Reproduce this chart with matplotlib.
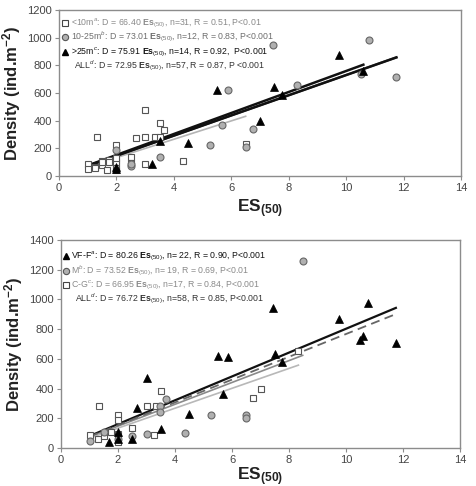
import matplotlib
matplotlib.use("Agg")
import matplotlib.pyplot as plt
import numpy as np

plt.rcParams['font.family'] = ['Liberation Sans', 'DejaVu Sans']
plt.rcParams['mathtext.fontset'] = 'custom'
plt.rcParams['mathtext.rm'] = 'Liberation Sans'
plt.rcParams['mathtext.it'] = 'Liberation Sans:italic'
plt.rcParams['mathtext.bf'] = 'Liberation Sans:bold'

# ---------------- Top panel data (by depth) ----------------
sq_top_x = [1.0, 1.0, 1.25, 1.33, 1.5, 1.5, 1.67, 1.75, 2.0, 2.0, 2.0, 2.0, 2.0, 2.5, 2.5,
            2.67, 3.0, 3.0, 3.0, 3.33, 3.5, 3.5, 3.67, 4.33, 6.5, 1.25, 1.75, 2.0, 1.5]
sq_top_y = [85, 50, 65, 280, 110, 80, 45, 115, 225, 110, 95, 40, 60, 140, 95,
            275, 475, 280, 90, 280, 385, 285, 335, 110, 230, 55, 100, 130, 100]
ci_top_x = [2.0, 2.5, 2.5, 3.5, 5.25, 5.67, 5.87, 6.5, 6.75, 7.45, 8.3, 10.5, 10.78, 11.75]
ci_top_y = [190, 70, 85, 135, 225, 370, 620, 210, 340, 945, 655, 735, 980, 715]
tr_top_x = [2.0, 2.0, 3.25, 3.5, 4.5, 5.5, 7.0, 7.5, 7.75, 9.75, 10.6]
tr_top_y = [65, 50, 85, 250, 235, 620, 400, 640, 585, 875, 760]

top_slopes = [66.40, 73.01, 75.91, 72.95]
top_xrange = [(1.0, 6.5), (1.0, 11.75), (1.0, 10.6), (1.0, 11.75)]
top_labels = [
    r"<10m$^{a}$: D = 66.40 $\mathbf{Es}_{(50)}$, n=31, R = 0.51, P<0.01",
    r"10-25m$^{b}$: D = 73.01 $\mathbf{Es}_{(50)}$, n=12, R = 0.83, P<0.001",
    r">25m$^{c}$: D = 75.91 $\mathbf{Es}_{(50)}$, n=14, R = 0.92,  P<0.001",
    r"ALL$^{d}$: D = 72.95 $\mathbf{Es}_{(50)}$, n=57, R = 0.87, P <0.001",
]

# ---------------- Bottom panel data (by sediment) ----------------
tr_bot_x = [1.67, 2.0, 2.0, 2.5, 2.67, 3.0, 3.5, 4.5, 5.5, 5.87, 5.67, 7.45, 7.5, 7.75,
            9.75, 10.5, 10.6, 10.78, 11.75]
tr_bot_y = [40, 110, 60, 60, 270, 470, 130, 230, 620, 615, 365, 940, 635, 580,
            870, 730, 755, 975, 710]
ci_bot_x = [1.0, 1.5, 2.0, 2.5, 3.0, 3.47, 3.47, 3.67, 4.35, 5.25, 6.5, 6.5, 8.48]
ci_bot_y = [50, 110, 60, 80, 95, 283, 240, 330, 100, 222, 225, 205, 1260]
sq_bot_x = [1.0, 1.33, 1.3, 1.5, 1.75, 2.0, 2.0, 2.0, 2.0, 2.5, 3.0, 3.25, 3.35, 3.5, 6.75, 7.03, 8.33]
sq_bot_y = [85, 280, 60, 80, 110, 225, 190, 95, 40, 135, 280, 90, 280, 385, 335, 400, 650]

bot_slopes = [80.26, 73.52, 66.95, 76.72]
bot_xrange = [(1.0, 11.75), (1.0, 8.48), (1.0, 8.33), (1.0, 11.75)]
bot_labels = [
    r"VF-F$^{a}$: D = 80.26 $\mathbf{Es}_{(50)}$, n= 22, R = 0.90, P<0.001",
    r"M$^{b}$: D = 73.52 $\mathbf{Es}_{(50)}$, n= 19, R = 0.69, P<0.01",
    r"C-G$^{c}$: D = 66.95 $\mathbf{Es}_{(50)}$, n=17, R = 0.84, P<0.001",
    r"ALL$^{d}$: D = 76.72 $\mathbf{Es}_{(50)}$, n=58, R = 0.85, P<0.001",
]

W, H = 476, 486
fig = plt.figure(figsize=(W / 100, H / 100), dpi=100)

def px_axes(l, t, r, b):
    return fig.add_axes([l / W, 1 - b / H, (r - l) / W, (b - t) / H])

ax1 = px_axes(59, 10, 461, 176)
ax2 = px_axes(61, 240, 460, 448)

sq_style = dict(marker='s', ms=5, mfc='white', mec='#555555', mew=0.8, ls='none')
ci_style = dict(marker='o', ms=5, mfc='#b0b0b0', mec='#666666', mew=0.8, ls='none')
tr_style = dict(marker='^', ms=5.5, mfc='black', mec='black', mew=0.5, ls='none')

def style_axes(ax, ymax, xlabelpad):
    ax.set_xlim(0, 14)
    ax.set_ylim(0, ymax)
    ax.set_xticks(np.arange(0, 15, 2))
    ax.set_yticks(np.arange(0, ymax + 1, 200))
    for s in ax.spines.values():
        s.set_color('#8c8c8c')
        s.set_linewidth(1.0)
    ax.tick_params(direction='out', length=3, width=0.8, color='#8c8c8c',
                   labelsize=8, labelcolor='#444444', pad=2)
    ax.set_ylabel(r"Density (ind.m$^{\mathbf{-2}}$)", fontsize=12, fontweight='bold',
                  color='#222222', labelpad=3)
    ax.set_xlabel(r"ES$_{\mathbf{(50)}}$", fontsize=12.5, fontweight='bold',
                  color='#222222', labelpad=xlabelpad)

def draw_lines(ax, slopes, ranges, colors, widths, styles):
    for b, (x0, x1), c, w, st in zip(slopes, ranges, colors, widths, styles):
        xs = np.array([x0, x1])
        ax.plot(xs, b * xs, color=c, lw=w, ls=st, zorder=3)

def legend_text(ax, labels, colors, markers, ys_px, ax_top_px, ax_h_px, x_marker, x_text):
    for lab, c, m, yp in zip(labels, colors, markers, ys_px):
        yf = 1 - (yp - ax_top_px) / ax_h_px
        if m is not None:
            ax.plot([x_marker], [yf], transform=ax.transAxes, clip_on=False, **m)
            ax.text(x_text, yf, lab, transform=ax.transAxes, fontsize=6.3, color=c,
                    va='center', ha='left')
        else:
            ax.text(x_text + 0.008, yf, lab, transform=ax.transAxes, fontsize=6.3, color=c,
                    va='center', ha='left')

# ---- top panel ----
ax1.plot(sq_top_x, sq_top_y, zorder=4, **sq_style)
ax1.plot(ci_top_x, ci_top_y, zorder=4, **ci_style)
ax1.plot(tr_top_x, tr_top_y, zorder=4, **tr_style)
draw_lines(ax1, top_slopes, top_xrange,
           ['#b4b4b4', '#555555', '#111111', '#111111'],
           [1.2, 1.6, 1.8, 1.8], ['-', '-', '-', '-'])
style_axes(ax1, 1200, 3)
legend_text(ax1, top_labels, ['#8a8a8a', '#6e6e6e', '#111111', '#333333'],
            [dict(marker='s', ms=4.5, mfc='white', mec='#444444', mew=0.8, ls='none'),
             dict(marker='o', ms=4.5, mfc='#b0b0b0', mec='#555555', mew=0.8, ls='none'),
             dict(marker='^', ms=5, mfc='black', mec='black', ls='none'),
             None],
            [23, 37, 52, 66], 10, 166, 0.016, 0.03)

# ---- bottom panel ----
ax2.plot(sq_bot_x, sq_bot_y, zorder=4, **sq_style)
ax2.plot(ci_bot_x, ci_bot_y, zorder=4, **ci_style)
ax2.plot(tr_bot_x, tr_bot_y, zorder=4, **tr_style)
draw_lines(ax2, bot_slopes, bot_xrange,
           ['#111111', '#8a8a8a', '#b8b8b8', '#666666'],
           [1.6, 1.2, 1.2, 1.3], ['-', '-', '-', (0, (5, 3))])
style_axes(ax2, 1400, 0)
legend_text(ax2, bot_labels, ['#111111', '#8a8a8a', '#8a8a8a', '#333333'],
            [dict(marker='^', ms=5, mfc='black', mec='black', ls='none'),
             dict(marker='o', ms=4.5, mfc='#b0b0b0', mec='#555555', mew=0.8, ls='none'),
             dict(marker='s', ms=4.5, mfc='white', mec='#444444', mew=0.8, ls='none'),
             None],
            [256, 271, 285, 299], 240, 208, 0.012, 0.026)

fig.savefig("out.png", dpi=100, facecolor='white')
